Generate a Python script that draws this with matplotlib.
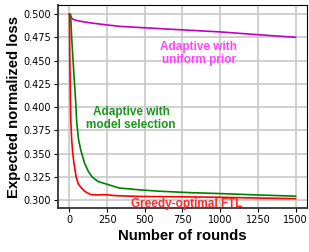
import matplotlib

matplotlib.use("Agg")
import matplotlib.pyplot as plt

# values
rounds_ftl = [0, 3, 9, 15, 22, 30, 44, 60, 80, 103, 140, 180, 220, 250, 300,
              465, 750, 1000, 1250, 1500]
loss_ftl = [0.500, 0.450, 0.3865, 0.365, 0.351, 0.340, 0.3254, 0.317, 0.313,
            0.3093, 0.306, 0.3055, 0.3057, 0.3057, 0.3048, 0.3039, 0.3035,
            0.3030, 0.3022, 0.3015]

rounds_sel = [0, 8, 15, 30, 42, 48, 60, 75, 100, 125, 150, 190, 250, 330,
              465, 600, 800, 1000, 1250, 1500]
loss_sel = [0.500, 0.500, 0.475, 0.435, 0.405, 0.385, 0.366, 0.354, 0.340,
            0.331, 0.325, 0.320, 0.317, 0.313, 0.311, 0.3095, 0.308, 0.307,
            0.3055, 0.3042]

rounds_uni = [0, 5, 15, 26, 70, 150, 250, 334, 600, 750, 1000, 1250, 1500]
loss_uni = [0.500, 0.4985, 0.496, 0.4943, 0.4925, 0.4905, 0.4885, 0.4870,
            0.4845, 0.4832, 0.4810, 0.4780, 0.4752]

xticks = [0, 250, 500, 750, 1000, 1250, 1500]
yticks = [0.300, 0.325, 0.350, 0.375, 0.400, 0.425, 0.450, 0.475, 0.500]

bold = {"family": "Liberation Sans", "weight": "bold"}

fig = plt.figure(figsize=(3.09, 2.52), dpi=100)
ax = fig.add_axes([0.188, 0.175, 0.805, 0.805])

ax.plot(rounds_uni, loss_uni, color="#c000c0", lw=1.2)
ax.plot(rounds_sel, loss_sel, color="green", lw=1.2)
ax.plot(rounds_ftl, loss_ftl, color="red", lw=1.2)

ax.set_xticks(xticks)
ax.set_yticks(yticks)
ax.set_yticklabels([f"{v:.3f}" for v in yticks])
ax.tick_params(labelsize=7, length=3, width=0.8, pad=2)
ax.grid(True, color="#c8c8c8", lw=1.2)
ax.set_axisbelow(True)
for side in ("left", "bottom"):
    ax.spines[side].set_color("#333333")
    ax.spines[side].set_linewidth(1.3)

ax.set_xlabel("Number of rounds", fontsize=10.7, labelpad=3, **bold)
ax.set_ylabel("Expected normalized loss", fontsize=10.7, labelpad=2, **bold)

ax.text(858, 0.458, "Adaptive with\nuniform prior", color="#ff44ff",
        ha="center", va="center", fontsize=8.5, linespacing=1.1, **bold)
ax.text(410, 0.3876, "Adaptive with\nmodel selection", color="#1a961a",
        ha="center", va="center", fontsize=8.5, linespacing=1.1, **bold)
ax.text(781, 0.296, "Greedy-optimal FTL", color="#ff2a2a",
        ha="center", va="center", fontsize=8.5, **bold)

fig.savefig("out.png", dpi=100)
